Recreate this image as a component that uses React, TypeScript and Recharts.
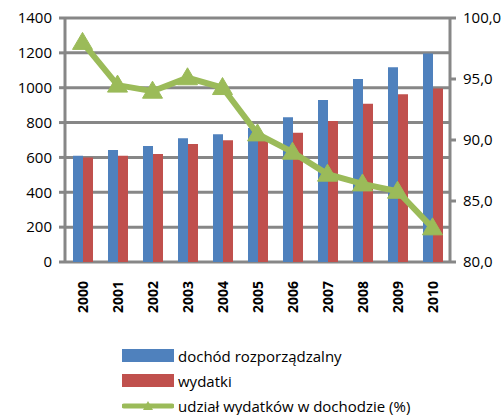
import React from "react";
import { ComposedChart, Bar, Line, XAxis, YAxis, CartesianGrid } from "recharts";

const years = ["2000", "2001", "2002", "2003", "2004", "2005", "2006", "2007", "2008", "2009", "2010"];
const income = [610, 642, 665, 710, 733, 769, 830, 929, 1050, 1117, 1197];
const spending = [600, 610, 620, 677, 698, 700, 742, 809, 908, 962, 996];
const share = [98.0, 94.5, 94.0, 95.1, 94.3, 90.5, 89.0, 87.2, 86.4, 85.8, 82.8];

const leftTicks = [0, 200, 400, 600, 800, 1000, 1200, 1400];
const rightTicks = [80, 85, 90, 95, 100];
const edgeTicks = [0, 1, 2, 3, 4, 5, 6, 7, 8, 9, 10, 11];

const BLUE = "#4F81BD";
const RED = "#C0504D";
const GREEN = "#9BBB59";
const GRAY = "#878787";
const FONT = "'Open Sans', Lato, sans-serif";

const data = years.map((year, i) => ({
  year,
  income: income[i],
  spending: spending[i],
  share: share[i],
}));

const Triangle = (props: any) => {
  const { cx, cy, index } = props;
  if (cx == null || cy == null) return <g key={index} />;
  return (
    <path
      key={index}
      d={`M${cx},${cy - 10} L${cx + 10},${cy + 7} L${cx - 10},${cy + 7} Z`}
      fill={GREEN}
      stroke={GREEN}
      strokeWidth={1}
    />
  );
};

const YearTick = (props: any) => {
  const { x, y, payload } = props;
  return (
    <text
      x={0}
      y={0}
      transform={`translate(${x + 5},${y + 11}) rotate(-90)`}
      textAnchor="end"
      fontFamily={FONT}
      fontSize={14}
      fontWeight="bold"
      fill="#000"
    >
      {payload.value}
    </text>
  );
};

const legendRow: React.CSSProperties = {
  display: "flex",
  alignItems: "center",
  height: 25,
};

const App: React.FC = () => {
  return (
    <div style={{ position: "absolute", left: 0, top: 0, width: 504, height: 415 }}>
      <ComposedChart
        width={504}
        height={415}
        data={data}
        margin={{ top: 18, right: 0, left: 0, bottom: 93 }}
        barGap={0}
      >
        <CartesianGrid
          yAxisId="left"
          vertical={false}
          stroke={GRAY}
          strokeWidth={3}
        />
        <XAxis
          xAxisId="edges"
          type="number"
          domain={[0, 11]}
          ticks={edgeTicks}
          allowDataOverflow
          height={0}
          stroke={GRAY}
          strokeWidth={3}
          tickSize={6}
          tick={() => <g />}
        />
        <XAxis
          xAxisId="cat"
          dataKey="year"
          height={60}
          axisLine={false}
          tickLine={false}
          interval={0}
          tick={<YearTick />}
        />
        <YAxis
          yAxisId="left"
          domain={[0, 1400]}
          ticks={leftTicks}
          width={65}
          stroke={GRAY}
          strokeWidth={3}
          tickSize={6}
          tickMargin={7}
          tick={{ fill: "#000", fontSize: 15, fontFamily: FONT }}
        />
        <YAxis
          yAxisId="right"
          orientation="right"
          domain={[80, 100]}
          ticks={rightTicks}
          width={54}
          stroke={GRAY}
          strokeWidth={3}
          tickSize={6}
          tickMargin={7}
          tickFormatter={(v: number) => v.toFixed(1).replace(".", ",")}
          tick={{ fill: "#000", fontSize: 15, fontFamily: FONT }}
        />
        <Bar xAxisId="cat" yAxisId="left" dataKey="income" fill={BLUE} barSize={10} isAnimationActive={false} />
        <Bar xAxisId="cat" yAxisId="left" dataKey="spending" fill={RED} barSize={10} isAnimationActive={false} />
        <Line
          xAxisId="cat"
          yAxisId="right"
          type="linear"
          dataKey="share"
          stroke={GREEN}
          strokeWidth={6}
          dot={Triangle}
          activeDot={false}
          isAnimationActive={false}
        />
      </ComposedChart>
      <div
        style={{
          position: "absolute",
          left: 122,
          top: 343,
          fontFamily: FONT,
          fontSize: 15,
          color: "#000",
        }}
      >
        <div style={legendRow}>
          <span style={{ display: "inline-block", width: 52, height: 13, background: BLUE, marginRight: 4 }} />
          dochód rozporządzalny
        </div>
        <div style={legendRow}>
          <span style={{ display: "inline-block", width: 52, height: 13, background: RED, marginRight: 4 }} />
          wydatki
        </div>
        <div style={legendRow}>
          <svg width={52} height={14} style={{ marginRight: 4 }}>
            <line x1={2} y1={7} x2={50} y2={7} stroke={GREEN} strokeWidth={5} strokeLinecap="round" />
            <path d="M26,2 L31,11 L21,11 Z" fill={GREEN} />
          </svg>
          udział wydatków w dochodzie (%)
        </div>
      </div>
    </div>
  );
};

export default App;
